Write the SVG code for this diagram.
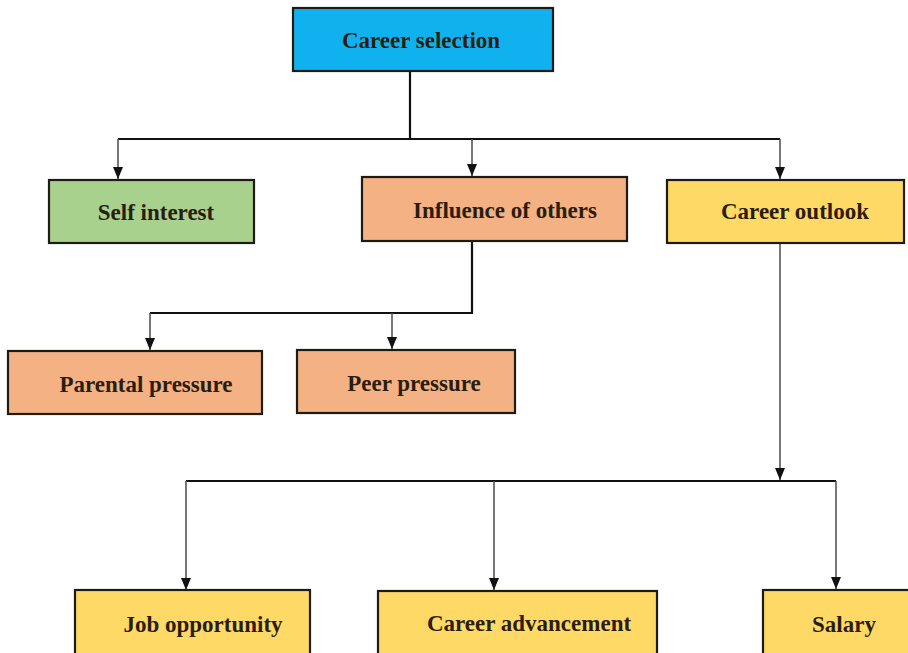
<svg xmlns="http://www.w3.org/2000/svg" width="908" height="653" viewBox="0 0 908 653">
<style>
.box{stroke:#1e1a14;stroke-width:2.2}
.blue{fill:#0fb2ee}
.green{fill:#a9d18e}
.orange{fill:#f4b183}
.yellow{fill:#ffd966}
.lbl{font-family:"Liberation Serif","Times New Roman",serif;font-weight:bold;font-size:23px;fill:#2a1d0e;text-anchor:middle;dominant-baseline:central}
.bus{stroke:#111;stroke-width:2.2;fill:none}
.drop{stroke:#555;stroke-width:1.6;fill:none}
</style>
<defs>
<marker id="arr" markerWidth="12" markerHeight="10" refX="12" refY="5" orient="auto" markerUnits="userSpaceOnUse" viewBox="0 0 12 10">
<path d="M0,0 L12,5 L0,10 Z" fill="#111"/>
</marker>
</defs>
<g id="connectors">
<path class="bus" d="M410,71 V139"/>
<path class="bus" d="M118,139 H780"/>
<path class="drop" d="M118,139 V179" marker-end="url(#arr)"/>
<path class="drop" d="M472,139 V176" marker-end="url(#arr)"/>
<path class="drop" d="M780,139 V179" marker-end="url(#arr)"/>
<path class="bus" d="M472,241 V313 H150"/>
<path class="drop" d="M150,313 V350" marker-end="url(#arr)"/>
<path class="drop" d="M392,313 V349" marker-end="url(#arr)"/>
<path class="drop" d="M780,243 V480" marker-end="url(#arr)"/>
<path class="bus" d="M186,481 H836"/>
<path class="drop" d="M186,481 V590" marker-end="url(#arr)"/>
<path class="drop" d="M494,481 V590" marker-end="url(#arr)"/>
<path class="drop" d="M836,481 V589" marker-end="url(#arr)"/>
</g>
<g id="career-selection">
<rect class="box blue" x="293" y="8" width="260" height="63"/>
<text class="lbl" x="421" y="40">Career selection</text>
</g>
<g id="self-interest">
<rect class="box green" x="49" y="180" width="205" height="63"/>
<text class="lbl" x="156" y="212">Self interest</text>
</g>
<g id="influence-of-others">
<rect class="box orange" x="362" y="177" width="265" height="64"/>
<text class="lbl" x="505" y="210">Influence of others</text>
</g>
<g id="career-outlook">
<rect class="box yellow" x="667" y="180" width="237" height="63"/>
<text class="lbl" x="795" y="211">Career outlook</text>
</g>
<g id="parental-pressure">
<rect class="box orange" x="8" y="351" width="254" height="63"/>
<text class="lbl" x="146" y="384">Parental pressure</text>
</g>
<g id="peer-pressure">
<rect class="box orange" x="297" y="350" width="218" height="63"/>
<text class="lbl" x="414" y="383">Peer pressure</text>
</g>
<g id="job-opportunity">
<rect class="box yellow" x="75" y="590" width="235" height="70"/>
<text class="lbl" x="203" y="624">Job opportunity</text>
</g>
<g id="career-advancement">
<rect class="box yellow" x="378" y="591" width="279" height="70"/>
<text class="lbl" x="529" y="623">Career advancement</text>
</g>
<g id="salary">
<rect class="box yellow" x="763" y="590" width="150" height="70"/>
<text class="lbl" x="844" y="624">Salary</text>
</g>
</svg>
